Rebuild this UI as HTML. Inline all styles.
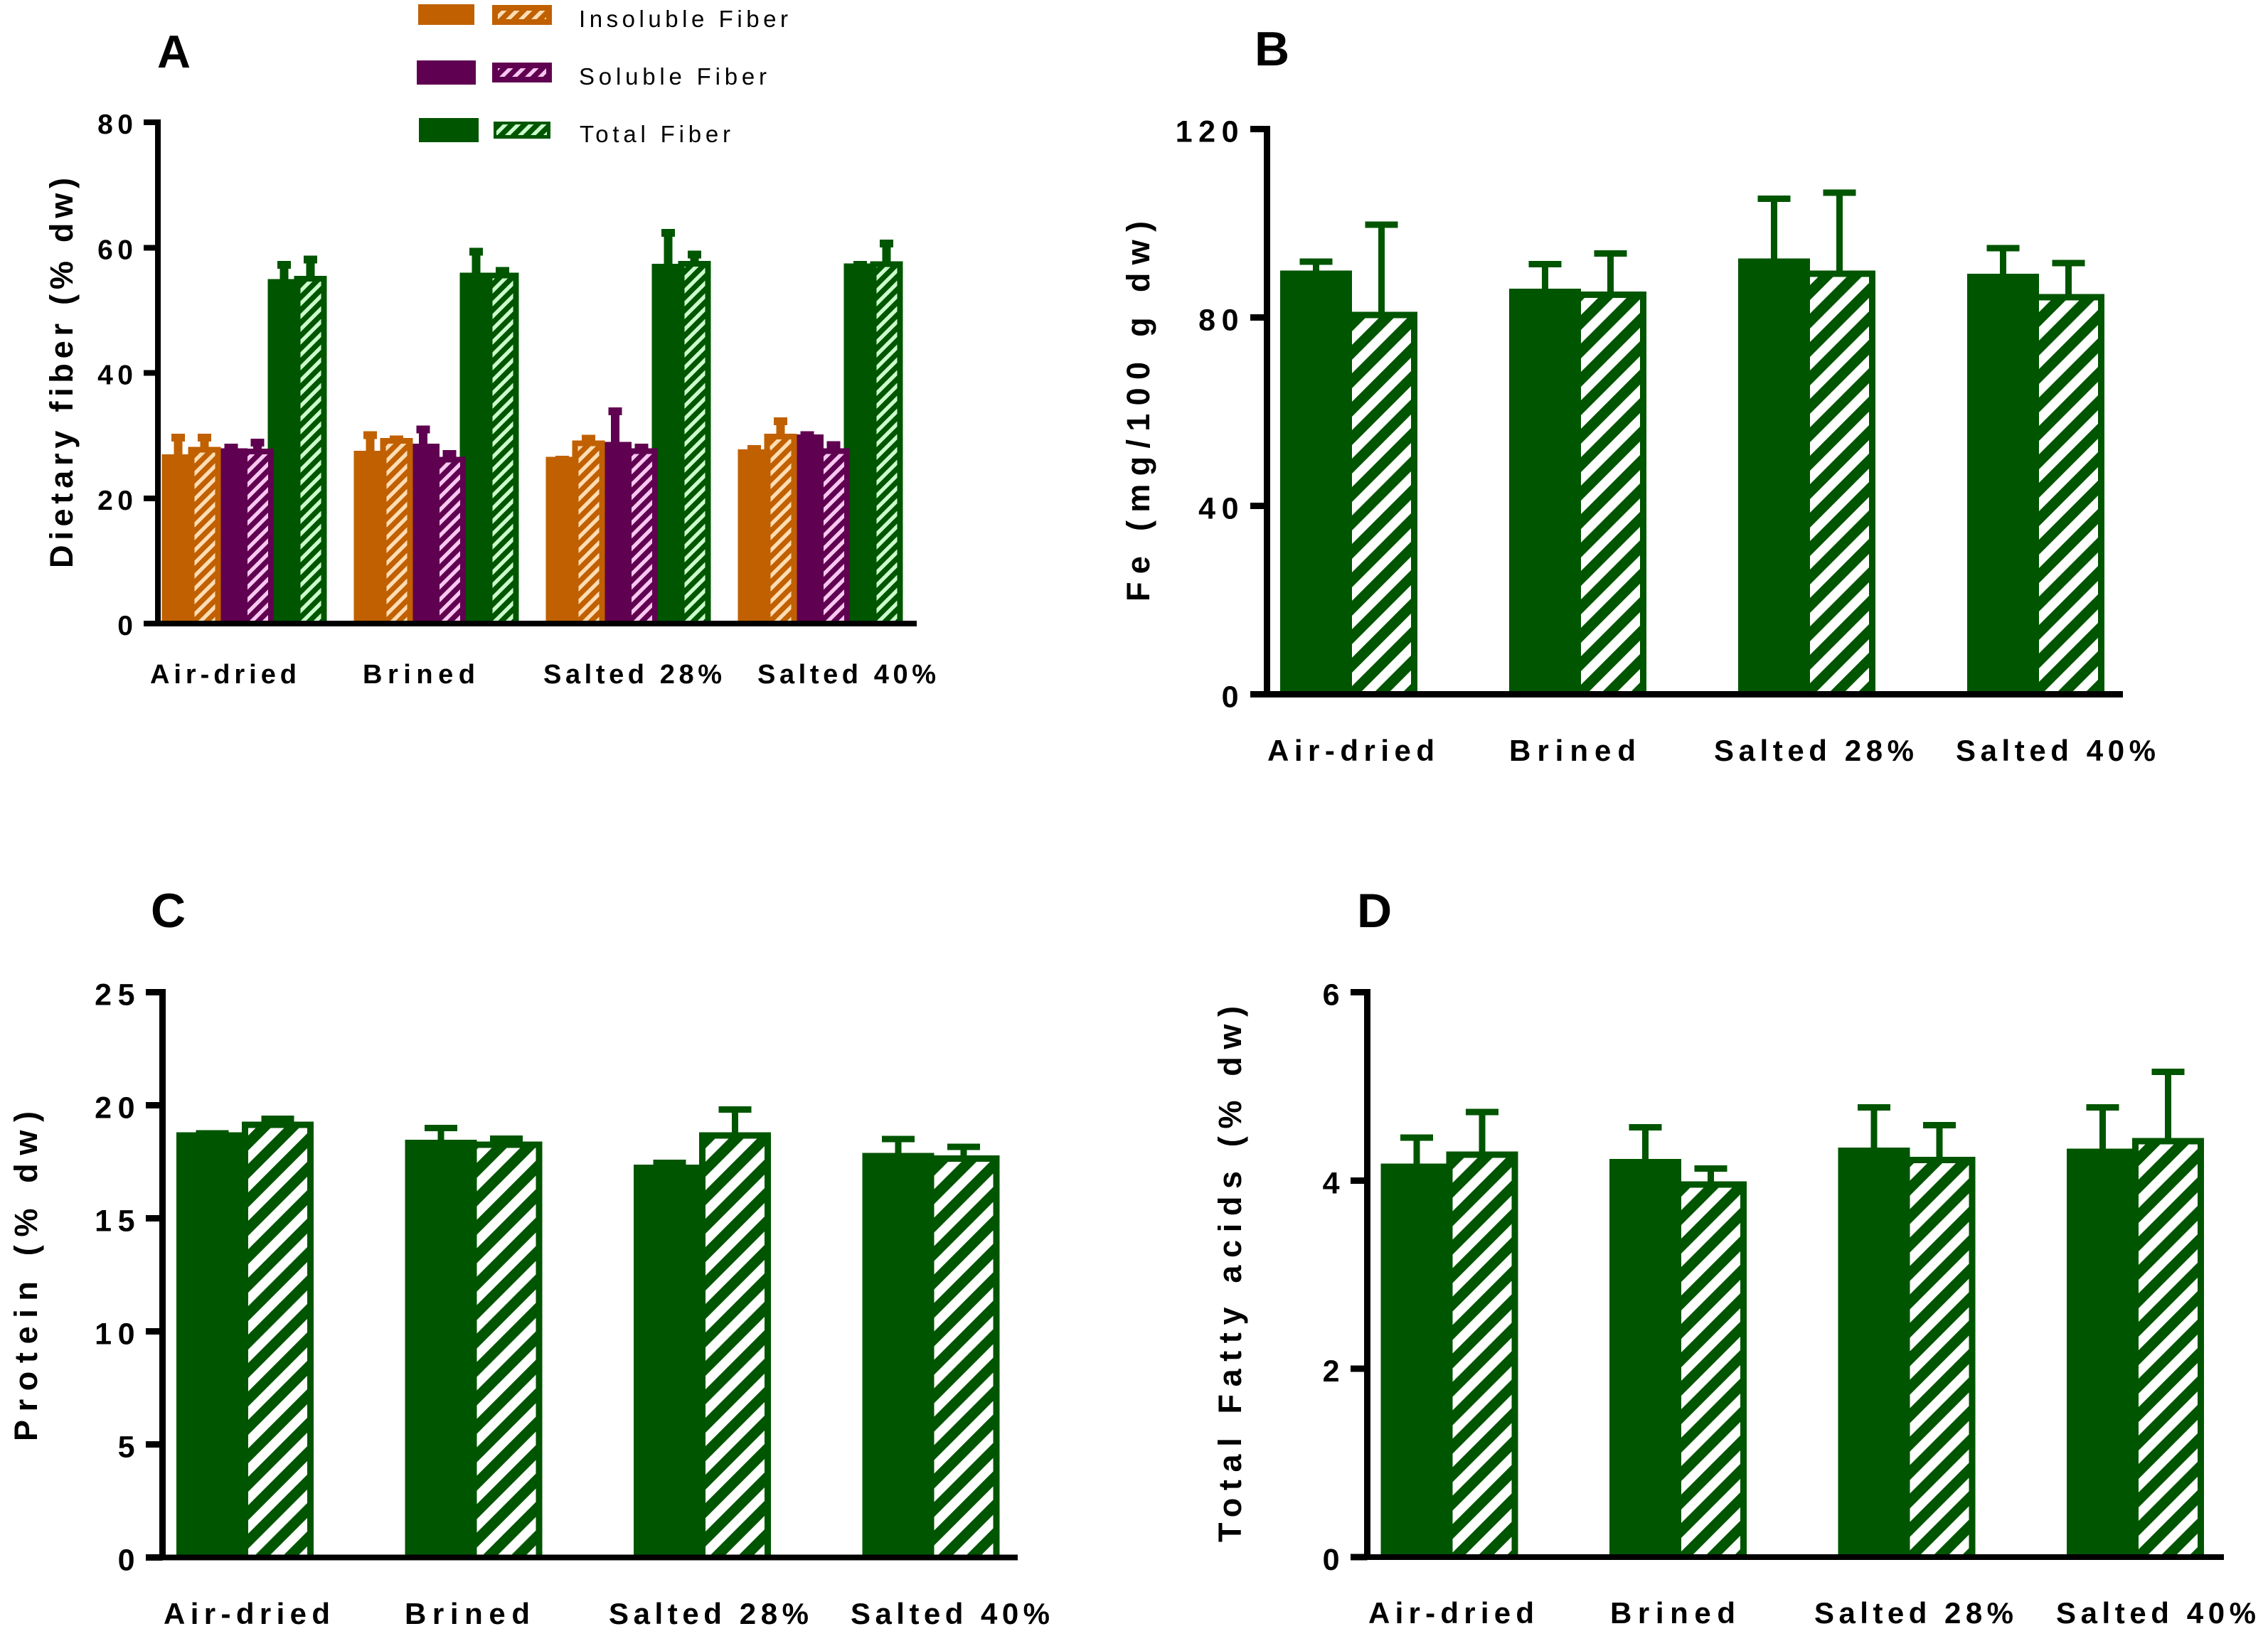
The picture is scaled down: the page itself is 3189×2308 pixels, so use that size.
<!DOCTYPE html>
<html lang="en">
<head>
<meta charset="utf-8">
<title>Dietary fiber, Fe, protein and fatty acids</title>
<style>
html,body{margin:0;padding:0;background:#fff;}
svg{display:block;}
text{font-family:"Liberation Sans",Arial,sans-serif;fill:#000;}
.bold{font-weight:700;}
</style>
</head>
<body>
<svg id="figure" xmlns="http://www.w3.org/2000/svg" width="3189" height="2308" viewBox="0 0 3189 2308">
<defs>
<pattern id="hatch-white" patternUnits="userSpaceOnUse" width="40" height="40">
<rect width="40" height="40" fill="#005500"/>
<polygon points="7,0 26,0 -14,40 -33,40" fill="#fff"/><polygon points="47,0 66,0 26,40 7,40" fill="#fff"/>
</pattern>
<pattern id="hatch-orange" patternUnits="userSpaceOnUse" width="18" height="18">
<rect width="18" height="18" fill="#C06000"/>
<polygon points="0,0 7.5,0 -10.5,18 -18,18" fill="#FFDDB4"/><polygon points="18,0 25.5,0 7.5,18 0,18" fill="#FFDDB4"/>
</pattern>
<pattern id="hatch-purple" patternUnits="userSpaceOnUse" width="18" height="18">
<rect width="18" height="18" fill="#600050"/>
<polygon points="0,0 7.5,0 -10.5,18 -18,18" fill="#F8C8F0"/><polygon points="18,0 25.5,0 7.5,18 0,18" fill="#F8C8F0"/>
</pattern>
<pattern id="hatch-green" patternUnits="userSpaceOnUse" width="18" height="18">
<rect width="18" height="18" fill="#005500"/>
<polygon points="0,0 7.5,0 -10.5,18 -18,18" fill="#CCFFCC"/><polygon points="18,0 25.5,0 7.5,18 0,18" fill="#CCFFCC"/>
</pattern>
</defs>

<text class="bold" x="221" y="95" font-size="65">A</text>
<text class="bold" x="1764" y="92" font-size="68">B</text>
<text class="bold" x="212" y="1304" font-size="68">C</text>
<text class="bold" x="1908" y="1304" font-size="68">D</text>

<text class="bold" transform="translate(102,799) rotate(-90)" font-size="45" textLength="549" lengthAdjust="spacing">Dietary fiber (% dw)</text>
<text class="bold" transform="translate(1616,846) rotate(-90)" font-size="45" textLength="535" lengthAdjust="spacing">Fe (mg/100 g dw)</text>
<text class="bold" transform="translate(52,2027) rotate(-90)" font-size="45" textLength="464" lengthAdjust="spacing">Protein (% dw)</text>
<text class="bold" transform="translate(1745,2169) rotate(-90)" font-size="45" textLength="754" lengthAdjust="spacing">Total Fatty acids (% dw)</text>

<g>
<rect x="588" y="6" width="79" height="29" fill="#C06000"/>
<rect x="692" y="7" width="84" height="28" fill="#C06000"/>
<rect x="700" y="15" width="68" height="12" fill="url(#hatch-orange)"/>
<text x="814" y="38" font-size="33" textLength="294" lengthAdjust="spacing">Insoluble Fiber</text>
<rect x="586" y="85" width="83" height="34" fill="#600050"/>
<rect x="692" y="88" width="84" height="28" fill="#600050"/>
<rect x="700" y="96" width="68" height="12" fill="url(#hatch-purple)"/>
<text x="814" y="119" font-size="33" textLength="264" lengthAdjust="spacing">Soluble Fiber</text>
<rect x="589" y="166" width="84" height="34" fill="#005500"/>
<rect x="694" y="171" width="80" height="24" fill="#005500"/>
<rect x="698" y="175" width="71" height="15" fill="url(#hatch-green)"/>
<text x="815" y="200" font-size="33" textLength="212" lengthAdjust="spacing">Total Fiber</text>
</g>
</svg>

<script>
// ---------- data ----------
const categories = ["Air-dried", "Brined", "Salted 28%", "Salted 40%"];

// Panel A: dietary fiber (% dw)
const fiberTicks = [0, 20, 40, 60, 80];
const insolubleSolid = [27.0, 27.6, 26.6, 27.8];
const insolubleSolidUpper = [30.3, 30.7, 26.8, 28.5];
const insolubleHatched = [28.2, 29.6, 29.2, 30.3];
const insolubleHatchedUpper = [30.3, 30.0, 30.1, 32.9];
const solubleSolid = [28.0, 28.7, 29.0, 30.2];
const solubleSolidUpper = [28.7, 31.6, 34.5, 30.7];
const solubleHatched = [27.9, 26.6, 28.0, 28.0];
const solubleHatchedUpper = [29.5, 27.7, 28.7, 29.1];
const totalSolid = [55.0, 56.0, 57.4, 57.5];
const totalSolidUpper = [57.9, 60.0, 63.0, 57.9];
const totalHatched = [55.5, 56.0, 57.9, 57.8];
const totalHatchedUpper = [58.7, 56.9, 59.5, 61.3];

// Panel B: Fe (mg/100 g dw)
const feTicks = [0, 40, 80, 120];
const feSolid = [90.0, 86.1, 92.5, 89.3];
const feSolidUpper = [92.5, 92.0, 105.9, 95.4];
const feHatched = [81.2, 85.5, 90.0, 85.0];
const feHatchedUpper = [100.4, 94.3, 107.2, 92.2];

// Panel C: protein (% dw)
const proteinTicks = [0, 5, 10, 15, 20, 25];
const proteinSolid = [18.8, 18.47, 17.37, 17.89];
const proteinSolidUpper = [18.9, 19.14, 17.6, 18.64];
const proteinHatched = [19.27, 18.39, 18.8, 17.78];
const proteinHatchedUpper = [19.55, 18.67, 19.96, 18.3];

// Panel D: total fatty acids (% dw)
const fattyTicks = [0, 2, 4, 6];
const fattySolid = [4.18, 4.23, 4.35, 4.34];
const fattySolidUpper = [4.49, 4.60, 4.81, 4.81];
const fattyHatched = [4.31, 3.99, 4.25, 4.45];
const fattyHatchedUpper = [4.76, 4.16, 4.62, 5.19];

// ---------- colours ----------
const ORANGE = "#C06000", PURPLE = "#600050", GREEN = "#005500";

// ---------- panel geometry ----------
const panelA = {
  id: "a", ticks: fiberTicks, yMax: 80, y0: 877, yTop: 172,
  axisX: 222, axisW: 8, baseH: 8, tickH: 8, tickLeft: 202, baseRight: 1289,
  groupX: 229, groupStep: 270, firstCenter: 21.5, pitch: 37.2, half: 23, border: 8,
  capW: 19, capH: 11, stemW: 12,
  tickEnd: 187, tickFont: 39, tickSpacing: 6.5, tickDrop: 16,
  labelFont: 38, labelY: 961,
  labelStart: [211, 510, 764, 1065], labelLen: [206, 158, 251, 251],
  series: [
    {name: "insoluble-solid", values: insolubleSolid, upper: insolubleSolidUpper, color: ORANGE},
    {name: "insoluble-hatched", values: insolubleHatched, upper: insolubleHatchedUpper, color: ORANGE, hatch: "hatch-orange"},
    {name: "soluble-solid", values: solubleSolid, upper: solubleSolidUpper, color: PURPLE},
    {name: "soluble-hatched", values: solubleHatched, upper: solubleHatchedUpper, color: PURPLE, hatch: "hatch-purple"},
    {name: "total-solid", values: totalSolid, upper: totalSolidUpper, color: GREEN},
    {name: "total-hatched", values: totalHatched, upper: totalHatchedUpper, color: GREEN, hatch: "hatch-green"}
  ]
};
const panelB = {
  id: "b", ticks: feTicks, yMax: 120, y0: 976.5, yTop: 181.5,
  axisX: 1781.5, axisW: 9, baseH: 9, tickH: 9, tickLeft: 1758, baseRight: 2985,
  groupX: 1800, groupStep: 322, firstCenter: 50.5, pitch: 92, half: 50.5, border: 9,
  capW: 46, capH: 9, stemW: 9,
  tickEnd: 1741.5, tickFont: 43, tickSpacing: 8.5, tickDrop: 18,
  labelFont: 42, labelY: 1070,
  labelStart: [1782, 2122, 2410, 2750], labelLen: [235, 178, 281, 281],
  series: [
    {name: "fe-solid", values: feSolid, upper: feSolidUpper, color: GREEN},
    {name: "fe-hatched", values: feHatched, upper: feHatchedUpper, color: GREEN, hatch: "hatch-white"}
  ]
};
const panelC = {
  id: "c", ticks: proteinTicks, yMax: 25, y0: 2190.5, yTop: 1395.5,
  axisX: 228.5, axisW: 9, baseH: 8, tickH: 9, tickLeft: 205, baseRight: 1431,
  groupX: 248, groupStep: 321.5, firstCenter: 50.5, pitch: 92, half: 50.5, border: 9,
  capW: 46, capH: 9, stemW: 9,
  tickEnd: 189.5, tickFont: 43, tickSpacing: 8.5, tickDrop: 18,
  labelFont: 42, labelY: 2284,
  labelStart: [230, 569, 856, 1196], labelLen: [234, 176, 281, 280],
  series: [
    {name: "protein-solid", values: proteinSolid, upper: proteinSolidUpper, color: GREEN},
    {name: "protein-hatched", values: proteinHatched, upper: proteinHatchedUpper, color: GREEN, hatch: "hatch-white"}
  ]
};
const panelD = {
  id: "d", ticks: fattyTicks, yMax: 6, y0: 2190, yTop: 1395.5,
  axisX: 1922.5, axisW: 9, baseH: 8, tickH: 9, tickLeft: 1899, baseRight: 3127,
  groupX: 1941.5, groupStep: 321.5, firstCenter: 50.5, pitch: 92, half: 50.5, border: 9,
  capW: 46, capH: 9, stemW: 9,
  tickEnd: 1883.5, tickFont: 43, tickSpacing: 8.5, tickDrop: 18,
  labelFont: 42, labelY: 2283,
  labelStart: [1924, 2264, 2551, 2891], labelLen: [233, 176, 280, 281],
  series: [
    {name: "fatty-solid", values: fattySolid, upper: fattySolidUpper, color: GREEN},
    {name: "fatty-hatched", values: fattyHatched, upper: fattyHatchedUpper, color: GREEN, hatch: "hatch-white"}
  ]
};

// ---------- drawing ----------
const NS = "http://www.w3.org/2000/svg";
const figure = document.getElementById("figure");

function yScale(p, v) { return p.y0 - (v / p.yMax) * (p.y0 - p.yTop); }
function xCenter(p, group, seriesIndex) {
  return p.groupX + p.groupStep * group + p.firstCenter + p.pitch * seriesIndex;
}
function rect(parent, x, y, w, h, fill) {
  const r = document.createElementNS(NS, "rect");
  r.setAttribute("x", x);
  r.setAttribute("y", y);
  r.setAttribute("width", w);
  r.setAttribute("height", h);
  r.setAttribute("fill", fill);
  r.setAttribute("shape-rendering", "crispEdges");
  parent.appendChild(r);
  return r;
}
function label(parent, x, y, str, size) {
  const t = document.createElementNS(NS, "text");
  t.setAttribute("class", "bold");
  t.setAttribute("x", x);
  t.setAttribute("y", y);
  t.setAttribute("font-size", size);
  t.textContent = str;
  parent.appendChild(t);
  return t;
}

function drawPanel(p) {
  const g = document.createElementNS(NS, "g");
  
  
  figure.appendChild(g);

  // Bars are painted last-to-first so earlier bars overlap later ones.
  for (let c = 0; c < categories.length; c++) {
    for (let s = p.series.length - 1; s >= 0; s--) {
      const ser = p.series[s];
      const cx = xCenter(p, c, s);
      const top = yScale(p, ser.values[c]);
      const up = yScale(p, ser.upper[c]);

      const stem = rect(g, cx - p.stemW / 2, up, p.stemW, top - up + 1, ser.color);
      
      
      const cap = rect(g, cx - p.capW / 2, up, p.capW, p.capH, ser.color);
      
      

      const bar = rect(g, cx - p.half, top, p.half * 2, p.y0 - top, ser.color);
      
      
      if (ser.hatch) {
        const inner = rect(g, cx - p.half + p.border, top + p.border, p.half * 2 - p.border * 2,
          Math.max(0, p.y0 - top - p.border), "url(#" + ser.hatch + ")");
        
        
      }
    }
  }

  // Axes
  const yAxis = rect(g, p.axisX - p.axisW / 2, p.yTop - p.tickH / 2, p.axisW, p.y0 - p.yTop + p.tickH / 2, "#000");
  
  
  const xAxis = rect(g, p.tickLeft, p.y0 - p.baseH / 2, p.baseRight - p.tickLeft, p.baseH, "#000");
  
  

  for (const v of p.ticks) {
    const y = yScale(p, v);
    const tick = rect(g, p.tickLeft, y - p.tickH / 2, p.axisX - p.tickLeft, p.tickH, "#000");
    
    
    const t = label(g, p.tickEnd + p.tickSpacing, y + p.tickDrop, String(v), p.tickFont);
    t.setAttribute("text-anchor", "end");
    t.setAttribute("letter-spacing", p.tickSpacing);
    
    
  }

  categories.forEach(function (name, i) {
    const t = label(g, p.labelStart[i], p.labelY, name, p.labelFont);
    t.setAttribute("textLength", p.labelLen[i]);
    t.setAttribute("lengthAdjust", "spacing");
    
    
  });
}

[panelA, panelB, panelC, panelD].forEach(drawPanel);
</script>
</body>
</html>
